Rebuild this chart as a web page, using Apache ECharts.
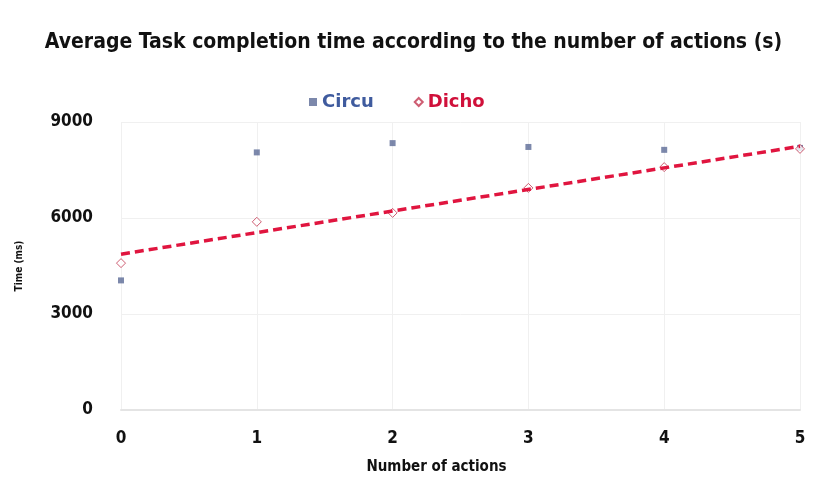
<!DOCTYPE html>
<html>
<head>
<meta charset="utf-8">
<script src="https://cdn.jsdelivr.net/npm/echarts@6/dist/echarts.min.js"></script>
<style>
    html, body { margin: 0; padding: 0; background: #fff; }
    #chart { width: 827px; height: 485px; }
</style>
</head>
<body>
<div id="chart"></div>
<script>
// values
const actions = [0, 1, 2, 3, 4, 5];
const circu = [4050, 8050, 8340, 8220, 8130, 8190];
const dicho = [4590, 5880, 6160, 6940, 7590, 8160];
// dashed trend line for Dicho, end points
const trendX = [0, 5];
const trendY = [4870, 8240];

const boldFont = 'DejaVu Sans Condensed';

let chart = echarts.init(document.getElementById('chart'));

chart.setOption({
    backgroundColor: '#fff',
    animation: false,
    title: {
        text: 'Average Task completion time according to the number of actions (s)',
        left: 'center',
        top: 27,
        textStyle: {
            fontFamily: boldFont,
            fontWeight: 'bold',
            fontSize: 21,
            color: '#111'
        }
    },
    legend: {
        top: 88,
        left: 304,
        itemWidth: 8,
        itemHeight: 8,
        itemGap: 40,
        textStyle: {
            fontFamily: 'DejaVu Sans',
            fontWeight: 'bold',
            fontSize: 18
        },
        data: [
            { name: 'Circu', textStyle: { color: '#3f5b9e' } },
            { name: 'Dicho', textStyle: { color: '#d0103a' } }
        ]
    },
    grid: {
        left: 121,
        right: 27,
        top: 122,
        bottom: 75
    },
    xAxis: {
        type: 'value',
        min: 0,
        max: 5,
        interval: 1,
        name: 'Number of actions',
        nameLocation: 'middle',
        nameGap: 50,
        nameTextStyle: {
            fontFamily: boldFont,
            fontWeight: 'bold',
            fontSize: 15,
            color: '#111',
            padding: [0, 48, 0, 0]
        },
        axisLine: { show: true, lineStyle: { color: '#e4e4e4', width: 2 } },
        axisTick: { show: false },
        axisLabel: {
            margin: 20,
            fontFamily: boldFont,
            fontWeight: 'bold',
            fontSize: 17,
            color: '#111'
        },
        splitLine: { show: true, lineStyle: { color: '#f0f0f0' } }
    },
    yAxis: {
        type: 'value',
        min: 0,
        max: 9000,
        interval: 3000,
        name: 'Time (ms)',
        nameLocation: 'middle',
        nameGap: 97,
        nameTextStyle: {
            fontFamily: boldFont,
            fontWeight: 'bold',
            fontSize: 10,
            color: '#111'
        },
        axisLine: { show: false },
        axisTick: { show: false },
        axisLabel: {
            margin: 28,
            fontFamily: boldFont,
            fontWeight: 'bold',
            fontSize: 17,
            color: '#111',
            formatter: function(v){ return String(v); }
        },
        splitLine: { show: true, lineStyle: { color: '#f0f0f0' } }
    },
    series: [
        {
            name: 'Circu',
            type: 'scatter',
            symbol: 'rect',
            symbolSize: 6,
            itemStyle: { color: '#5b6a96' },
            data: actions.map((x, i) => [x, circu[i]]),
            z: 3
        },
        {
            name: 'Dicho',
            type: 'scatter',
            symbol: 'diamond',
            symbolSize: 9,
            itemStyle: { color: '#fff', borderColor: '#c2344f', borderWidth: 1 },
            data: actions.map((x, i) => [x, dicho[i]]),
            z: 3
        },
        {
            name: 'trend',
            type: 'line',
            symbol: 'none',
            silent: true,
            lineStyle: { color: '#e0153f', width: 3.5, type: [9, 5] },
            data: trendX.map((x, i) => [x, trendY[i]]),
            z: 4
        }
    ]
});
</script>
</body>
</html>
